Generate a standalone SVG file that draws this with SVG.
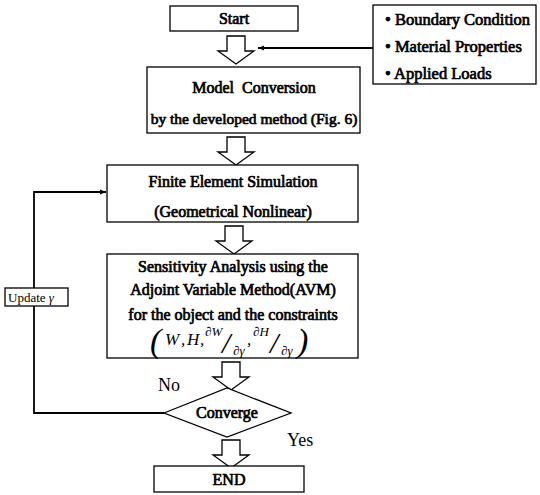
<svg xmlns="http://www.w3.org/2000/svg" width="540" height="495" viewBox="0 0 540 495">
<style>
.box{fill:#fff;stroke:#000;stroke-width:1.3}
.t{font-family:"Liberation Serif",serif;font-size:16px;fill:#000;stroke:#000;stroke-width:0.7;text-anchor:middle}
.tl{font-family:"Liberation Serif",serif;font-size:16.5px;fill:#000;stroke:#000;stroke-width:0.7}
.r{font-family:"Liberation Serif",serif;font-size:18px;fill:#000}
.hollow{fill:#fff;stroke:#000;stroke-width:1.3;stroke-linejoin:miter}
.line{fill:none;stroke:#000;stroke-width:1.8}
.m{font-family:"Liberation Serif",serif;font-style:italic;fill:#000}
</style>
<defs>
<marker id="ah" viewBox="0 0 10 10" refX="10" refY="5" markerWidth="6" markerHeight="6" orient="auto" markerUnits="userSpaceOnUse">
<path d="M0,1 L10,5 L0,9 Z" fill="#000"/>
</marker>
<path id="harrow" d="M-9,0 L9,0 L9,15 L18,15 L0,28 L-18,15 L-9,15 Z"/>
</defs>

<g id="connectors">
<use href="#harrow" class="hollow" x="236" y="36"/>
<use href="#harrow" class="hollow" x="236" y="137"/>
<use href="#harrow" class="hollow" x="234" y="226"/>
<use href="#harrow" class="hollow" x="231" y="362"/>
<use href="#harrow" class="hollow" x="231" y="440"/>
<path class="line" d="M373,48 L258,48" marker-end="url(#ah)"/>
<path class="line" d="M164,413 L34,413 L34,192 L106,192" marker-end="url(#ah)"/>
</g>

<g id="start">
<rect class="box" x="170" y="6" width="128" height="25"/>
<text class="t" x="234" y="24">Start</text>
</g>

<g id="inputs">
<rect class="box" x="373" y="5" width="163" height="79"/>
<text class="tl" x="385" y="25">• Boundary Condition</text>
<text class="tl" x="385" y="52">• Material Properties</text>
<text class="tl" x="385" y="79">• Applied Loads</text>
</g>

<g id="model">
<rect class="box" x="147" y="67" width="213" height="66"/>
<text class="t" x="254" y="93" xml:space="preserve">Model  Conversion</text>
<text class="t" x="254" y="124" style="font-size:15.5px">by the developed method (Fig. 6)</text>
</g>

<g id="fem">
<rect class="box" x="107" y="165" width="251" height="57"/>
<text class="t" x="233" y="187">Finite Element Simulation</text>
<text class="t" x="233" y="217">(Geometrical Nonlinear)</text>
</g>

<g id="sensitivity">
<rect class="box" x="107" y="254" width="251" height="104"/>
<text class="t" x="233" y="272">Sensitivity Analysis using the</text>
<text class="t" x="233" y="295">Adjoint Variable Method(AVM)</text>
<text class="t" x="233" y="320">for the object and the constraints</text>
<text class="m" font-size="34" x="150" y="352" font-style="normal">(</text>
<text class="m" font-size="17" x="165" y="345">W</text>
<text class="m" font-size="17" x="181" y="345" font-style="normal">,</text>
<text class="m" font-size="17" x="187" y="345">H</text>
<text class="m" font-size="17" x="200" y="345" font-style="normal">,</text>
<text class="m" font-size="13" x="205" y="336">∂W</text>
<text class="m" font-size="30" x="222" y="353" font-style="normal">/</text>
<text class="m" font-size="13" x="233" y="355">∂γ</text>
<text class="m" font-size="17" x="247" y="345" font-style="normal">,</text>
<text class="m" font-size="13" x="253" y="336">∂H</text>
<text class="m" font-size="30" x="270" y="353" font-style="normal">/</text>
<text class="m" font-size="13" x="281" y="355">∂γ</text>
<text class="m" font-size="34" x="297" y="352" font-style="normal">)</text>
</g>

<g id="converge">
<path class="box" d="M164,413 L227,388 L291,413 L227,437 Z"/>
<text class="t" x="227" y="418">Converge</text>
</g>

<g id="end">
<rect class="box" x="154" y="466" width="150" height="26"/>
<text class="t" x="229" y="485">END</text>
</g>

<g id="update">
<rect class="box" x="5" y="288" width="63" height="18"/>
<text x="8" y="302" font-family="Liberation Serif, serif" font-size="13">Update <tspan font-style="italic">γ</tspan></text>
</g>

<text class="r" x="158" y="391">No</text>
<text class="r" x="287" y="446">Yes</text>
</svg>
